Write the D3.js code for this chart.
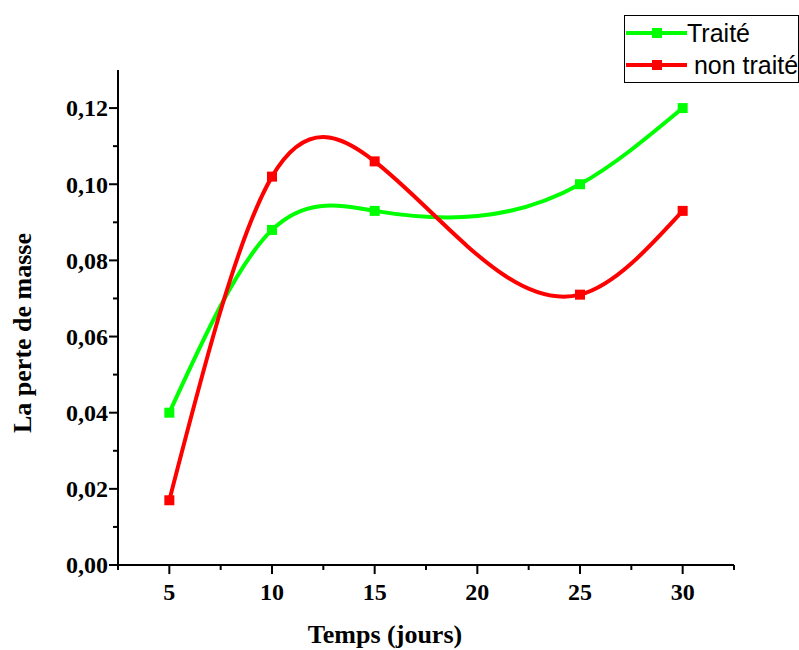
<!DOCTYPE html>
<html><head><meta charset="utf-8">
<script src="https://cdn.jsdelivr.net/npm/d3@7"></script>
<style>body{margin:0;background:#fff}svg{display:block}</style>
</head><body>
<script>
const days = [5, 10, 15, 25, 30];
const traite = [0.040, 0.088, 0.093, 0.100, 0.120];
const nonTraite = [0.017, 0.102, 0.106, 0.071, 0.093];
const xTicks = [5, 10, 15, 20, 25, 30];
const yTicks = [0, 0.02, 0.04, 0.06, 0.08, 0.10, 0.12];
const seriesNames = ["Traité", " non traité"];
const seriesColors = ["#00ff00", "#ff0000"];

// Custom d3 curve: natural cubic spline y(x) (function of x, like Origin's spline)
function SplineX(context) { this._context = context; }
SplineX.prototype = {
  areaStart() { this._line = 0; }, areaEnd() { this._line = NaN; },
  lineStart() { this._x = []; this._y = []; },
  point(x, y) { this._x.push(+x); this._y.push(+y); },
  lineEnd() {
    const X = this._x, Y = this._y, n = X.length, c = this._context;
    if (!n) return;
    c.moveTo(X[0], Y[0]);
    if (n === 2) { c.lineTo(X[1], Y[1]); return; }
    const h = [], M = new Array(n).fill(0);
    for (let i = 0; i < n - 1; i++) h.push(X[i + 1] - X[i]);
    // tridiagonal system for second derivatives
    const a = [], b = [], cc = [], r = [];
    for (let i = 1; i < n - 1; i++) {
      a.push(h[i - 1]); b.push(2 * (h[i - 1] + h[i])); cc.push(h[i]);
      r.push(6 * ((Y[i + 1] - Y[i]) / h[i] - (Y[i] - Y[i - 1]) / h[i - 1]));
    }
    const m = r.length;
    for (let i = 1; i < m; i++) { const w = a[i] / b[i - 1]; b[i] -= w * cc[i - 1]; r[i] -= w * r[i - 1]; }
    const sol = new Array(m);
    sol[m - 1] = r[m - 1] / b[m - 1];
    for (let i = m - 2; i >= 0; i--) sol[i] = (r[i] - cc[i] * sol[i + 1]) / b[i];
    for (let i = 0; i < m; i++) M[i + 1] = sol[i];
    const slope = [];
    for (let i = 0; i < n - 1; i++) slope.push((Y[i + 1] - Y[i]) / h[i] - h[i] * (2 * M[i] + M[i + 1]) / 6);
    slope.push((Y[n - 1] - Y[n - 2]) / h[n - 2] + h[n - 2] * (M[n - 2] + 2 * M[n - 1]) / 6);
    for (let i = 0; i < n - 1; i++) {
      const d = h[i] / 3;
      c.bezierCurveTo(X[i] + d, Y[i] + slope[i] * d, X[i + 1] - d, Y[i + 1] - slope[i + 1] * d, X[i + 1], Y[i + 1]);
    }
  }
};
const curveSplineX = ctx => new SplineX(ctx);

const W = 799, H = 650;
const svg = d3.select("body").append("svg").attr("width", W).attr("height", H);
const x = d3.scaleLinear().domain([2.5, 32.5]).range([118, 734]);
const y = d3.scaleLinear().domain([0, 0.13]).range([565, 70]);

const fmt = d => d3.format(".2f")(d).replace(".", ",");
const serif = "Liberation Serif, Times New Roman, serif";

// X axis
const xAxis = svg.append("g").attr("transform", "translate(0,565)");
xAxis.append("line").attr("x1", x.range()[0]).attr("x2", x.range()[1]).attr("stroke", "#000").attr("stroke-width", 2);
const xMinor = d3.range(2.5, 32.6, 2.5);
xAxis.selectAll(".xm").data(xMinor).enter().append("line")
  .attr("x1", d => x(d)).attr("x2", d => x(d)).attr("y1", 0).attr("y2", d => (d % 5 === 0 ? 9 : 5))
  .attr("stroke", "#000").attr("stroke-width", 2);
xAxis.selectAll(".xl").data(xTicks).enter().append("text")
  .attr("x", d => x(d)).attr("y", 35).attr("text-anchor", "middle")
  .attr("font-family", serif).attr("font-weight", "bold").attr("font-size", 24)
  .text(d => d);

// Y axis
const yAxis = svg.append("g").attr("transform", "translate(118,0)");
yAxis.append("line").attr("y1", y.range()[0]).attr("y2", y.range()[1]).attr("stroke", "#000").attr("stroke-width", 2);
const yMinor = d3.range(0, 13).map(v => v / 100);
yAxis.selectAll(".ym").data(yMinor).enter().append("line")
  .attr("y1", d => y(d)).attr("y2", d => y(d)).attr("x1", 0)
  .attr("x2", d => (Math.round(d * 100) % 2 === 0 ? -9 : -5))
  .attr("stroke", "#000").attr("stroke-width", 2);
yAxis.selectAll(".yl").data(yTicks).enter().append("text")
  .attr("x", -10).attr("y", d => y(d)).attr("dy", "0.35em").attr("text-anchor", "end")
  .attr("font-family", serif).attr("font-weight", "bold").attr("font-size", 24)
  .text(fmt);

// Axis titles
svg.append("text").attr("x", 385).attr("y", 643).attr("text-anchor", "middle")
  .attr("font-family", serif).attr("font-weight", "bold").attr("font-size", 26)
  .text("Temps (jours)");
svg.append("text").attr("transform", "translate(31,333) rotate(-90)").attr("text-anchor", "middle")
  .attr("font-family", serif).attr("font-weight", "bold").attr("font-size", 26)
  .text("La perte de masse");

// Series
const series = [traite, nonTraite];
const line = d3.line().x(d => x(d[0])).y(d => y(d[1])).curve(curveSplineX);
series.forEach((vals, i) => {
  const pts = days.map((d, j) => [d, vals[j]]);
  svg.append("path").attr("d", line(pts)).attr("fill", "none")
    .attr("stroke", seriesColors[i]).attr("stroke-width", 4);
  svg.selectAll(".m" + i).data(pts).enter().append("rect")
    .attr("x", d => x(d[0]) - 5).attr("y", d => y(d[1]) - 5).attr("width", 10).attr("height", 10)
    .attr("fill", seriesColors[i]);
});

// Legend
const lg = svg.append("g");
lg.append("rect").attr("x", 624.5).attr("y", 15.5).attr("width", 174).attr("height", 67)
  .attr("fill", "#fff").attr("stroke", "#000").attr("stroke-width", 1);
seriesNames.forEach((n, i) => {
  const yy = 33 + i * 32;
  lg.append("line").attr("x1", 626).attr("x2", 687).attr("y1", yy).attr("y2", yy)
    .attr("stroke", seriesColors[i]).attr("stroke-width", 4);
  lg.append("rect").attr("x", 652).attr("y", yy - 5).attr("width", 10).attr("height", 10).attr("fill", seriesColors[i]);
  lg.append("text").attr("x", 687).attr("y", yy + 9).attr("font-family", "Liberation Sans, Arial, sans-serif")
    .attr("font-size", 25).attr("xml:space", "preserve").style("white-space", "pre").text(n);
});
</script>
</body></html>
